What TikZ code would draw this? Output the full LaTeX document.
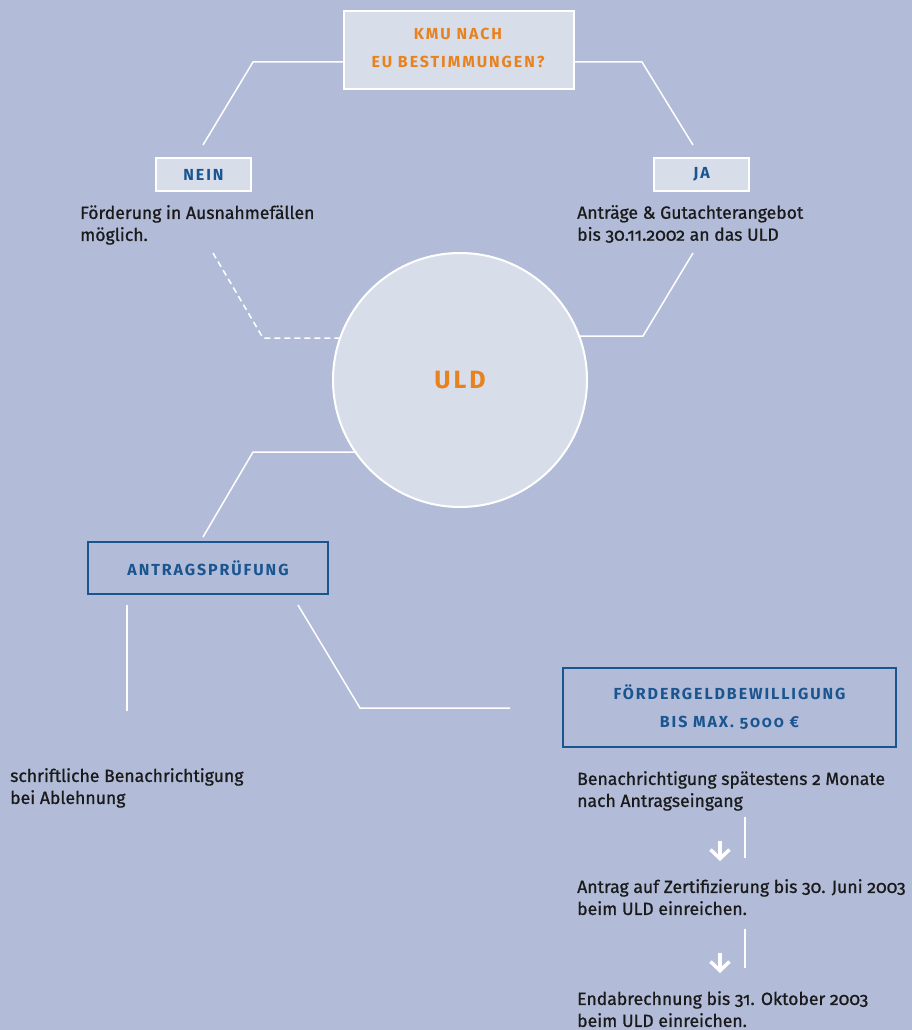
\documentclass[tikz,border=0pt]{standalone}
\usepackage{fontspec}
\setmainfont{Fira Sans}[Numbers=OldStyle,UprightFeatures={FakeBold=0.9}]
\newfontfamily\headfont{Fira Sans}[LetterSpace=12,Numbers=OldStyle,BoldFont={* Bold}]
\usetikzlibrary{arrows.meta}
\definecolor{bgc}{HTML}{B2BCD8}
\definecolor{lightc}{HTML}{D8DDEA}
\definecolor{orangec}{HTML}{E8821E}
\definecolor{bluec}{HTML}{1B5590}
\definecolor{textc}{HTML}{1A1A1A}
\tikzset{
  conn/.style={draw=white,line width=1.5pt},
  lightbox/.style={draw=white,line width=2pt,fill=lightc,inner sep=0pt,anchor=north west},
  bluebox/.style={draw=bluec,line width=2pt,inner sep=0pt,anchor=north west},
  headtxt/.style={font=\headfont\bfseries\fontsize{16}{28}\selectfont,align=center},
  bodytxt/.style={font=\fontsize{17.6}{22}\selectfont,text=textc,align=left,anchor=north west,inner sep=0pt},
  downarr/.style={draw=white,line width=3.5pt,-{Straight Barb[length=9pt,width=19pt,line width=3.5pt]}},
}
\begin{document}
\begin{tikzpicture}[x=1pt,y=-1pt]
\fill[bgc] (0,0) rectangle (912,1030);
\useasboundingbox (0,0) rectangle (912,1030);
% top box
\node[lightbox,minimum width=230pt,minimum height=78pt] (top) at (343,10) {};
\node[headtxt,text=orangec] (toptxt) at (458,48) {KMU NACH\\EU BESTIMMUNGEN?};
% nein / ja
\node[lightbox,minimum width=95pt,minimum height=33pt] (nein) at (155,157) {};
\node[headtxt,text=bluec] at (nein.center) {NEIN};
\node[lightbox,minimum width=95pt,minimum height=33pt] (ja) at (653,157) {};
\node[headtxt,text=bluec] at (ja.center) {JA};
% connectors from top
\coordinate (tl1) at (253,62); \coordinate (tl2) at (203,145);
\coordinate (tr1) at (642,62); \coordinate (tr2) at (693,145);
\draw[conn] (top.west |- tl1) -- (tl1) -- (tl2);
\draw[conn] (top.east |- tr1) -- (tr1) -- (tr2);
% texts
\node[bodytxt] (neintxt) at (80,205) {Förderung in Ausnahmefällen\\möglich.};
\node[bodytxt] (jatxt) at (577,205) {Anträge \& Gutachterangebot\\bis 30.11.2002 an das ULD};
% circle
\node[circle,draw=white,line width=2pt,fill=lightc,minimum size=254pt,inner sep=0pt] (uld) at (460,380) {};
\node[font=\headfont\bfseries\fontsize{25}{28}\selectfont,text=orangec] at (uld.center) {ULD};
% connectors to circle
\coordinate (n1) at (213,253); \coordinate (n2) at (263,338); \coordinate (n3) at (340,338);
\draw[conn,dash pattern=on 6pt off 4pt] (n1) -- (n2) -- (n3);
\coordinate (j1) at (693,253); \coordinate (j2) at (643,336); \coordinate (j3) at (578,336);
\draw[conn] (j1) -- (j2) -- (j3);
% circle to antrag
\coordinate (a1) at (357,452); \coordinate (a2) at (253,452); \coordinate (a3) at (203,537);
\draw[conn] (a1) -- (a2) -- (a3);
% antragspruefung
\node[bluebox,minimum width=240pt,minimum height=52pt] (antrag) at (87,541) {};
\node[headtxt,text=bluec] at (antrag.center) {ANTRAGSPRÜFUNG};
\coordinate (l1) at (127,605); \coordinate (l2) at (127,711);
\draw[conn] (l1) -- (l2);
\coordinate (r1) at (298,605); \coordinate (r2) at (360,708); \coordinate (r3) at (510,708);
\draw[conn] (r1) -- (r2) -- (r3);
% foerder box
\node[bluebox,minimum width=333pt,minimum height=79pt] (foerder) at (562,667) {};
\node[headtxt,text=bluec] at (foerder.center) {FÖRDERGELDBEWILLIGUNG\\BIS MAX. 5000 €};
% bottom texts
\node[bodytxt] (abl) at (10,768) {schriftliche Benachrichtigung\\bei Ablehnung};
\node[bodytxt] (ben) at (577,771) {Benachrichtigung spätestens 2 Monate\\nach Antragseingang};
\coordinate (ar1a) at (720,841); \coordinate (ar1b) at (720,861);
\draw[downarr] (ar1a) -- (ar1b);
\coordinate (v1a) at (745,817); \coordinate (v1b) at (745,858);
\draw[conn] (v1a) -- (v1b);
\node[bodytxt] (zert) at (577,879) {Antrag auf Zertifizierung bis 30. Juni 2003\\beim ULD einreichen.};
\coordinate (ar2a) at (720,953); \coordinate (ar2b) at (720,973);
\draw[downarr] (ar2a) -- (ar2b);
\coordinate (v2a) at (745,929); \coordinate (v2b) at (745,968);
\draw[conn] (v2a) -- (v2b);
\node[bodytxt] (end) at (577,991) {Endabrechnung bis 31. Oktober 2003\\beim ULD einreichen.};
\end{tikzpicture}
\end{document}
